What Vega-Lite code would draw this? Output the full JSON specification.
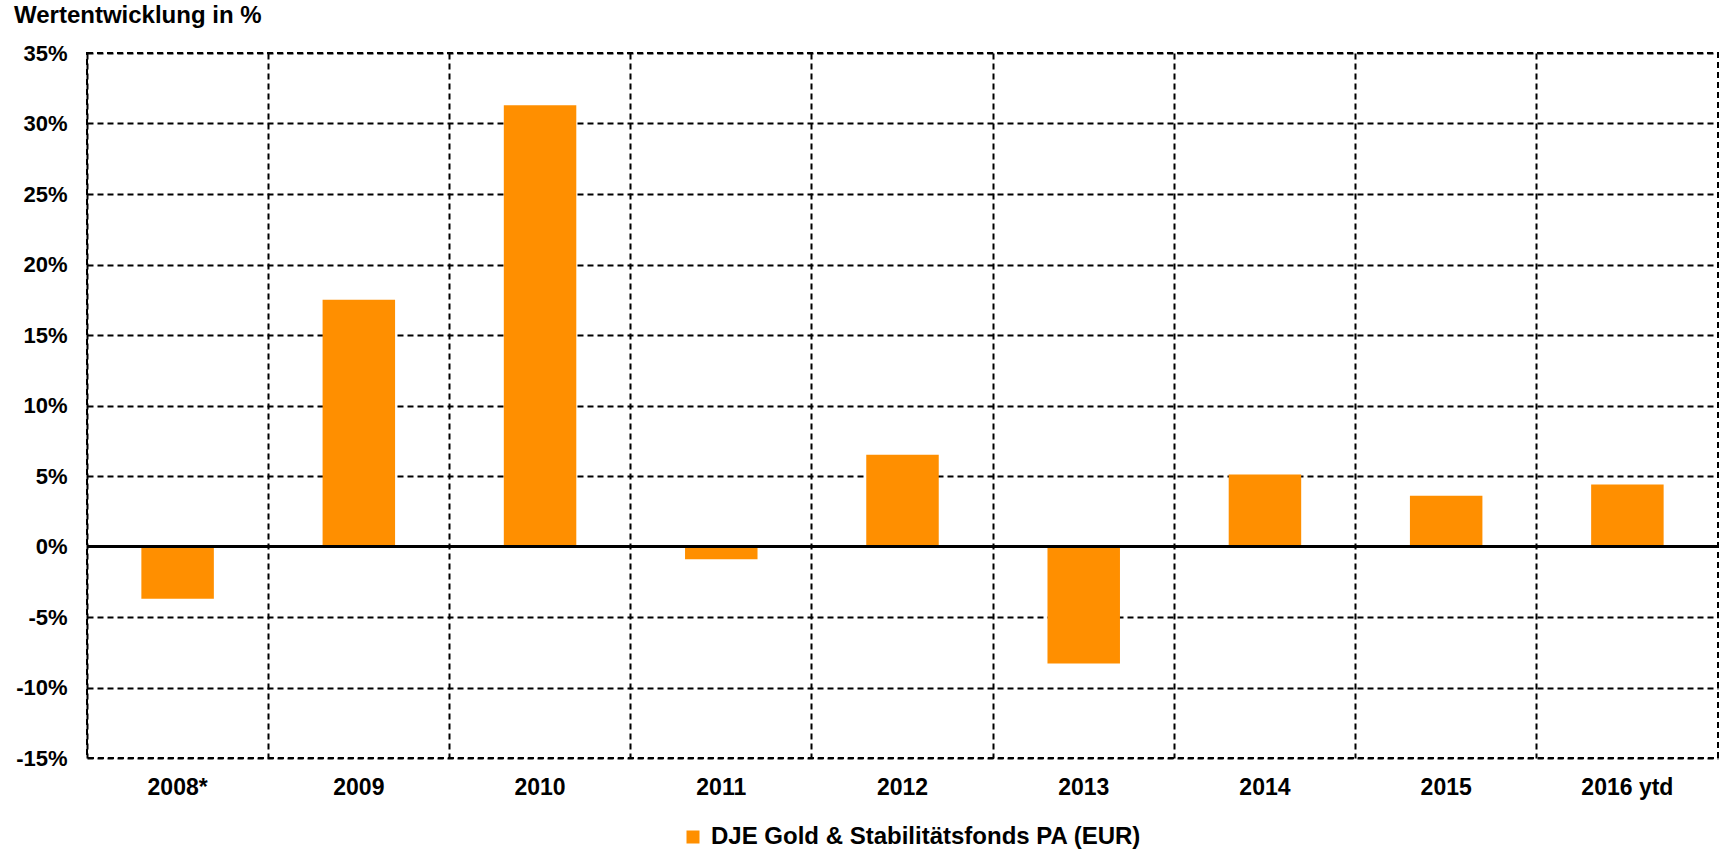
{
  "$schema": "https://vega.github.io/schema/vega-lite/v6.json",
  "autosize": {"type": "none"},
  "width": 1631,
  "height": 705,
  "padding": {"left": 87, "top": 53, "right": 7, "bottom": 95},
  "background": "white",
  "config": {
    "font": "Liberation Sans",
    "view": {"stroke": "black", "strokeWidth": 2, "strokeDash": [6, 4]},
    "axis": {"labelFont": "Liberation Sans", "labelFontWeight": "bold", "labelFontSize": 22, "labelColor": "black"}
  },
  "title": {
    "text": "Wertentwicklung in %",
    "anchor": "start",
    "frame": "group",
    "dx": -73,
    "dy": 31,
    "offset": 26,
    "baseline": "alphabetic",
    "font": "Liberation Sans",
    "fontSize": 24,
    "fontWeight": "bold",
    "color": "black"
  },
  "data": {
    "values": [
      {"year": "2008*", "value": -3.7, "series": "DJE Gold & Stabilitätsfonds PA (EUR)"},
      {"year": "2009", "value": 17.5, "series": "DJE Gold & Stabilitätsfonds PA (EUR)"},
      {"year": "2010", "value": 31.3, "series": "DJE Gold & Stabilitätsfonds PA (EUR)"},
      {"year": "2011", "value": -0.9, "series": "DJE Gold & Stabilitätsfonds PA (EUR)"},
      {"year": "2012", "value": 6.5, "series": "DJE Gold & Stabilitätsfonds PA (EUR)"},
      {"year": "2013", "value": -8.3, "series": "DJE Gold & Stabilitätsfonds PA (EUR)"},
      {"year": "2014", "value": 5.1, "series": "DJE Gold & Stabilitätsfonds PA (EUR)"},
      {"year": "2015", "value": 3.6, "series": "DJE Gold & Stabilitätsfonds PA (EUR)"},
      {"year": "2016 ytd", "value": 4.4, "series": "DJE Gold & Stabilitätsfonds PA (EUR)"}
    ]
  },
  "encoding": {
    "x": {
      "field": "year",
      "type": "nominal",
      "sort": null,
      "scale": {"paddingInner": 0, "paddingOuter": 0},
      "axis": {
        "title": null,
        "labelAngle": 0,
        "labelFontSize": 23,
        "domain": false,
        "ticks": false,
        "labelPadding": 18,
        "grid": true,
        "bandPosition": 0,
        "gridColor": "black",
        "gridWidth": 2,
        "gridDash": [6, 4],
        "gridOpacity": 1
      }
    }
  },
  "layer": [
    {
      "mark": {"type": "bar", "width": {"band": 0.4}},
      "encoding": {
        "y": {
          "field": "value",
          "type": "quantitative",
          "scale": {"domain": [-15, 35], "nice": false, "zero": false},
          "axis": {
            "title": null,
            "values": [-15, -10, -5, 0, 5, 10, 15, 20, 25, 30, 35],
            "labelExpr": "datum.value + '%'",
            "domain": false,
            "ticks": false,
            "labelPadding": 20,
            "grid": true,
            "gridColor": "black",
            "gridWidth": 2,
            "gridDash": [6, 4],
            "gridOpacity": 1
          }
        },
        "color": {
          "field": "series",
          "type": "nominal",
          "scale": {"range": ["#ff8f00"]},
          "legend": {
            "title": null,
            "orient": "none",
            "legendX": 594,
            "legendY": 772,
            "symbolType": "square",
            "symbolSize": 169,
            "symbolStrokeWidth": 0,
            "symbolOpacity": 1,
            "labelFont": "Liberation Sans",
            "labelFontWeight": "bold",
            "labelFontSize": 24,
            "labelColor": "black",
            "labelOffset": 6,
            "labelLimit": 0
          }
        }
      }
    },
    {
      "mark": {"type": "rule", "color": "black", "strokeWidth": 2},
      "encoding": {"y": {"datum": 0, "type": "quantitative"}, "x": {"value": 0}, "x2": {"value": 1631}}
    }
  ]
}
